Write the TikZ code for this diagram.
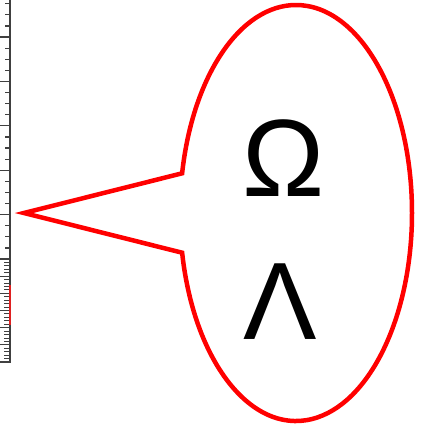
\documentclass[tikz,border=0pt]{standalone}
\usepackage{fontspec}
\setmainfont{Liberation Sans}
\usetikzlibrary{shapes.callouts}
\tikzset{
  bubble/.style={draw=red, line width=4.5pt, ellipse callout, minimum width=232pt, minimum height=416pt, inner sep=0pt, callout pointer arc=22},
  sym/.style={font=\fontsize{110}{110}\selectfont, inner sep=0pt},
  rulerline/.style={draw=black!75, line width=1.2pt},
}
\begin{document}
\begin{tikzpicture}[x=1pt, y=-1pt]
  \useasboundingbox (0,0) rectangle (422,426);
  % ruler at the left edge
  \draw[rulerline] (10,0) -- (10,362) -- (0,362);
  \foreach \k in {0,...,23} {
    \pgfmathsetmacro\ty{3.7+11.1*\k}
    \pgfmathsetmacro\tl{mod(\k+1,4)==0 ? 10 : 5}
    \draw[rulerline] (10-\tl,\ty) -- (10,\ty);
  }
  \foreach \j in {1,...,29} {
    \pgfmathsetmacro\ty{259+3.433*\j}
    \pgfmathsetmacro\tl{mod(\j,5)==0 ? 10 : 6}
    \draw[rulerline, line width=0.9pt] (10-\tl,\ty) -- (10,\ty);
  }
  \draw[red!75!gray, line width=1.5pt] (10,285) -- (10,325);
  % speech bubble
  \coordinate (tip) at (24,213);
  \node[bubble, callout absolute pointer={(tip)}] (bub) at (296,213) {};
  \node[sym] (omega) at (284,158.5) {Ω};
  \node[sym] (lambda) at (280,301.5) {Λ};
\end{tikzpicture}
\end{document}
